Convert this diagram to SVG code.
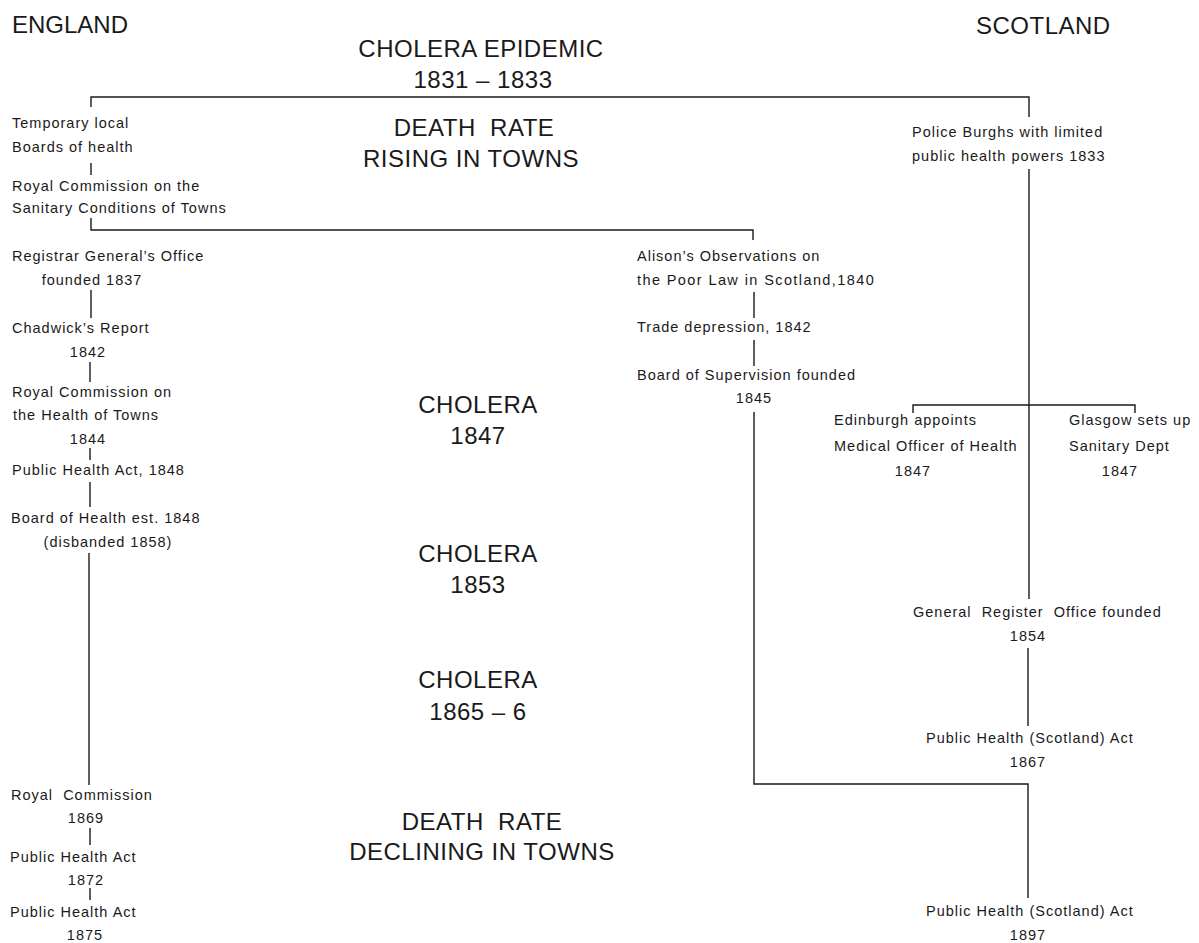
<svg xmlns="http://www.w3.org/2000/svg" width="1199" height="943" viewBox="0 0 1199 943">
<style>
.s{font-family:"Liberation Sans",Arial,sans-serif;font-size:14.5px;letter-spacing:1px;fill:#1a1a1a}
.m{text-anchor:middle}
.b{font-family:"Liberation Sans",Arial,sans-serif;font-size:24px;letter-spacing:0.5px;fill:#1a1a1a;text-anchor:middle}
.h{font-family:"Liberation Sans",Arial,sans-serif;font-size:24px;fill:#1a1a1a}
.c path{fill:none;stroke:#1a1a1a;stroke-width:1.4}
</style>
<rect width="1199" height="943" fill="#fff"/>
<g id="headers">
<text class="h" x="12" y="33">ENGLAND</text>
<text class="h" x="976" y="34" style="letter-spacing:0.5px">SCOTLAND</text>
</g>
<g id="events">
<text class="b" x="481" y="57">CHOLERA EPIDEMIC</text>
<text class="b" x="483" y="88">1831 – 1833</text>
<text class="b" x="474" y="136" xml:space="preserve">DEATH  RATE</text>
<text class="b" x="471" y="167">RISING IN TOWNS</text>
<text class="b" x="478" y="413">CHOLERA</text>
<text class="b" x="478" y="444">1847</text>
<text class="b" x="478" y="562">CHOLERA</text>
<text class="b" x="478" y="593">1853</text>
<text class="b" x="478" y="688">CHOLERA</text>
<text class="b" x="478" y="720">1865 – 6</text>
<text class="b" x="482" y="830" xml:space="preserve">DEATH  RATE</text>
<text class="b" x="482" y="860">DECLINING IN TOWNS</text>
</g>
<g class="c" id="connectors">
<path d="M91,107 V97 H1029 V117"/>
<path d="M91,163 V175"/>
<path d="M91,218 V230 H753 V240"/>
<path d="M91,290 V318"/>
<path d="M90,362 V382"/>
<path d="M90,448 V460"/>
<path d="M90,482 V507"/>
<path d="M89,553 V785"/>
<path d="M90,828 V845"/>
<path d="M90,888 V900"/>
<path d="M1029,169 V599"/>
<path d="M913,413 V405 H1135 V413"/>
<path d="M754,292 V318"/>
<path d="M754,340 V366"/>
<path d="M754,412 V784 H1028 V898"/>
<path d="M1028,648 V726"/>
</g>
<g id="n-temp"><text class="s" x="12" y="128">Temporary local</text><text class="s" x="12" y="152">Boards of health</text></g>
<g id="n-rc-sanitary"><text class="s" x="12" y="191">Royal Commission on the</text><text class="s" x="12" y="213">Sanitary Conditions of Towns</text></g>
<g id="n-registrar"><text class="s" x="12" y="261">Registrar General’s Office</text><text class="s m" x="92" y="285">founded 1837</text></g>
<g id="n-chadwick"><text class="s" x="12" y="333">Chadwick’s Report</text><text class="s m" x="88" y="357">1842</text></g>
<g id="n-rc-health"><text class="s" x="12" y="397">Royal Commission on</text><text class="s" x="13" y="420">the Health of Towns</text><text class="s m" x="88" y="444">1844</text></g>
<g id="n-pha1848"><text class="s" x="12" y="475">Public Health Act, 1848</text></g>
<g id="n-boh"><text class="s" x="11" y="523">Board of Health est. 1848</text><text class="s m" x="108" y="547">(disbanded 1858)</text></g>
<g id="n-rc1869"><text class="s" x="11" y="800" xml:space="preserve">Royal  Commission</text><text class="s m" x="86" y="823">1869</text></g>
<g id="n-pha1872"><text class="s" x="10" y="862">Public Health Act</text><text class="s m" x="86" y="885">1872</text></g>
<g id="n-pha1875"><text class="s" x="10" y="917">Public Health Act</text><text class="s m" x="85" y="940">1875</text></g>
<g id="n-police"><text class="s" x="912" y="137">Police Burghs with limited</text><text class="s" x="912" y="161">public health powers 1833</text></g>
<g id="n-alison"><text class="s" x="637" y="261">Alison’s Observations on</text><text class="s" x="637" y="285" style="letter-spacing:1.4px">the Poor Law in Scotland,1840</text></g>
<g id="n-trade"><text class="s" x="637" y="332">Trade depression, 1842</text></g>
<g id="n-supervision"><text class="s" x="637" y="380">Board of Supervision founded</text><text class="s m" x="754" y="403">1845</text></g>
<g id="n-edinburgh"><text class="s" x="834" y="425">Edinburgh appoints</text><text class="s" x="834" y="451">Medical Officer of Health</text><text class="s m" x="913" y="476">1847</text></g>
<g id="n-glasgow"><text class="s" x="1069" y="425">Glasgow sets up</text><text class="s" x="1069" y="451">Sanitary Dept</text><text class="s m" x="1120" y="476">1847</text></g>
<g id="n-gro"><text class="s" x="913" y="617" xml:space="preserve">General  Register  Office founded</text><text class="s m" x="1028" y="641">1854</text></g>
<g id="n-phs1867"><text class="s" x="926" y="743">Public Health (Scotland) Act</text><text class="s m" x="1028" y="767">1867</text></g>
<g id="n-phs1897"><text class="s" x="926" y="916">Public Health (Scotland) Act</text><text class="s m" x="1028" y="940">1897</text></g>
</svg>
